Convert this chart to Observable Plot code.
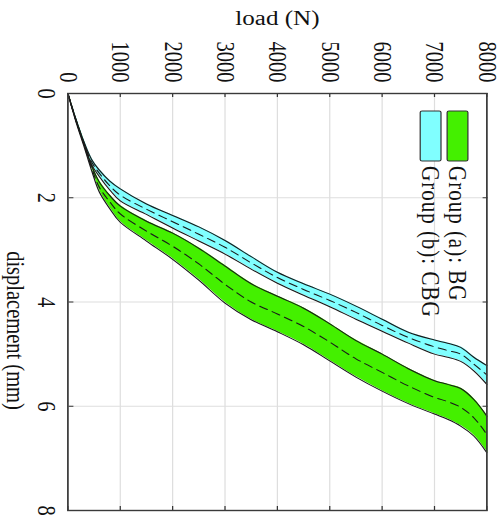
<!DOCTYPE html>
<html><head><meta charset="utf-8">
<script src="https://cdn.jsdelivr.net/npm/d3@7"></script>
<script src="https://cdn.jsdelivr.net/npm/@observablehq/plot@0.6"></script>
<style>
html,body{margin:0;padding:0;background:#fff;width:504px;height:520px;overflow:hidden;}
#wrap{position:absolute;left:0;top:0;width:520px;height:412px;transform-origin:0 0;transform:translate(504px,0) scale(1.2233,1) rotate(90deg);}
</style></head><body><div id="wrap"></div>
<script>
// load (N) levels at which the bands were read
const loads = [0,150,300,450,600,800,1000,1500,2000,2500,3000,3500,4000,4500,5000,5500,6000,6500,7000,7250,7500,7750,8000];
// Group (b): CBG displacement (mm)
const cbgLow  = [0,0.48,0.91,1.26,1.47,1.68,1.83,2.12,2.34,2.56,2.82,3.13,3.43,3.65,3.85,4.08,4.33,4.58,4.73,4.79,4.87,5.06,5.22];
const cbgHigh = [0,0.50,0.95,1.36,1.59,1.85,2.06,2.32,2.58,2.83,3.08,3.37,3.64,3.87,4.09,4.33,4.56,4.79,5.00,5.06,5.14,5.32,5.58];
const cbgMean = [0,0.49,0.93,1.31,1.53,1.77,1.95,2.22,2.46,2.70,2.95,3.25,3.53,3.76,3.97,4.20,4.45,4.68,4.86,4.93,5.00,5.19,5.40];
// Group (a): BG displacement (mm)
const bgLow   = [0,0.50,0.93,1.38,1.70,1.96,2.16,2.45,2.68,2.97,3.31,3.65,3.89,4.12,4.42,4.74,5.00,5.28,5.51,5.58,5.66,5.87,6.19];
const bgHigh  = [0,0.53,0.99,1.47,1.89,2.21,2.47,2.83,3.18,3.58,4.02,4.34,4.57,4.82,5.13,5.44,5.71,5.95,6.15,6.25,6.38,6.57,6.89];
const bgMean  = [0,0.51,0.96,1.42,1.80,2.08,2.31,2.64,2.93,3.27,3.66,4.00,4.23,4.47,4.77,5.09,5.35,5.61,5.83,5.91,6.02,6.22,6.54];

const groups = ["Group (a): BG", "Group (b): CBG"];
const colors = ["#44f000", "#80ffff"];
const dispTicks = [0,2,4,6,8];
const loadTicks = [0,1000,2000,3000,4000,5000,6000,7000,8000];
const xTitle = "displacement (mm)";
const yTitle = "load (N)";

const series = [
  {lo: bgLow, hi: bgHigh, mean: bgMean},
  {lo: cbgLow, hi: cbgHigh, mean: cbgMean}
];
const rows = series.map((s, gi) => loads.map((L, i) => ({group: groups[gi], load: L, lo: s.lo[i], hi: s.hi[i], mean: s.mean[i]})));

const W = 520, H = 412, mL = 93, mR = 10, mT = 13.5, mB = 56;
const innerW = W - mL - mR, innerH = H - mT - mB;
const tickLen = 4;
const font = "'Liberation Serif','Times New Roman',serif";

const marks = [
  Plot.gridX(dispTicks, {stroke: "#dedede", strokeOpacity: 1, strokeWidth: 1}),
  Plot.gridY(loadTicks, {stroke: "#dedede", strokeOpacity: 1, strokeWidth: 1})
];
rows.forEach((r, gi) => {
  marks.push(Plot.areaX(r, {y: "load", x1: "lo", x2: "hi", fill: colors[gi], fillOpacity: 1, curve: "catmull-rom"}));
  marks.push(Plot.lineX(r, {x: "lo", y: "load", stroke: "#1a1a1a", strokeWidth: 1, curve: "catmull-rom"}));
  marks.push(Plot.lineX(r, {x: "hi", y: "load", stroke: "#1a1a1a", strokeWidth: 1, curve: "catmull-rom"}));
  marks.push(Plot.lineX(r, {x: "mean", y: "load", stroke: "#1a1a1a", strokeWidth: 1, strokeDasharray: "7,4.5", curve: "catmull-rom"}));
});
marks.push(
  Plot.tickX(dispTicks, {x: d => d, stroke: "#333", insetTop: innerH - tickLen}),
  Plot.tickX(dispTicks, {x: d => d, stroke: "#333", insetBottom: innerH - tickLen}),
  Plot.tickY(loadTicks, {y: d => d, stroke: "#333", insetRight: innerW - tickLen}),
  Plot.tickY(loadTicks, {y: d => d, stroke: "#333", insetLeft: innerW - tickLen}),
  Plot.frame({stroke: "#3a3a3a", strokeWidth: 1.4}),
  Plot.axisX(dispTicks, {anchor: "bottom", tickSize: 0, tickPadding: 10, tickFormat: d3.format("d"), label: null, fontSize: 20.5, fill: "#111"}),
  Plot.axisY(loadTicks, {anchor: "left", tickSize: 0, tickPadding: 11, tickFormat: d3.format("d"), label: null, fontSize: 20.5, fill: "#111"}),
  Plot.text([yTitle], {frameAnchor: "left", dx: -75.5, rotate: -90, text: d => d, fontSize: 20.5, fill: "#111", textAnchor: "middle", lineAnchor: "middle"}),
  Plot.text([xTitle], {frameAnchor: "bottom", dx: 28.5, dy: 43.5, text: d => d, fontSize: 20.5, fill: "#111", textAnchor: "middle", lineAnchor: "middle"})
);

const chart = Plot.plot({
  width: W, height: H,
  marginLeft: mL, marginRight: mR, marginTop: mT, marginBottom: mB,
  x: {domain: [0, 8], axis: null},
  y: {domain: [0, 8000], axis: null},
  style: {fontFamily: font, fontSize: "20.5px", background: "white", overflow: "visible"},
  marks
});

// legend (inside the axes, upper-left in original orientation)
const g = d3.select(chart).append("g").attr("font-family", font).attr("font-size", 21).attr("text-anchor", "start");
groups.forEach((name, i) => {
  const top = 29.5 + i * 22;
  g.append("rect").attr("x", 111).attr("y", top).attr("width", 50).attr("height", 17)
    .attr("rx", 1.5).attr("fill", colors[i]).attr("stroke", "#333").attr("stroke-width", 1);
  g.append("text").attr("x", 166).attr("y", top + 8.5).attr("dy", "0.35em")
    .attr("text-anchor", "start").attr("fill", "#111").attr("letter-spacing", "1px").text(name);
});

document.getElementById("wrap").appendChild(chart);
</script></body></html>
